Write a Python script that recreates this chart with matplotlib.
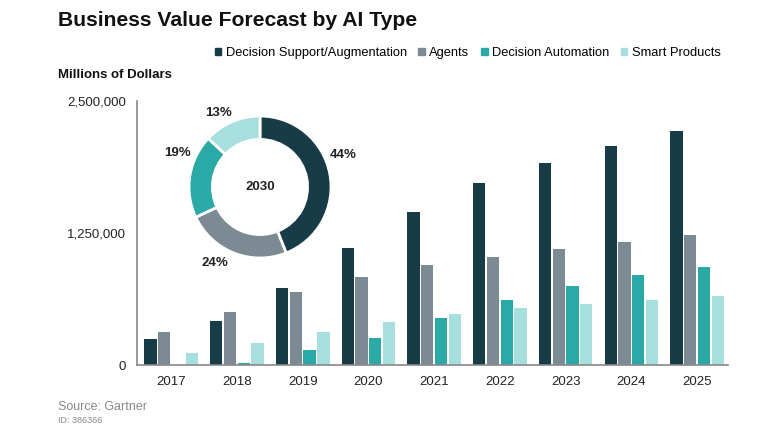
import numpy as np
import matplotlib
matplotlib.use("Agg")
import matplotlib.pyplot as plt
from matplotlib.patches import Patch

plt.rcParams.update({"font.family": ["Liberation Sans", "DejaVu Sans"]})

# data (millions of dollars)
years = ["2017", "2018", "2019", "2020", "2021", "2022", "2023", "2024", "2025"]
series = ["Decision Support/Augmentation", "Agents", "Decision Automation", "Smart Products"]
decision_support = [246000, 417000, 729000, 1105000, 1446000, 1726000, 1913000, 2077000, 2219000]
agents = [312000, 505000, 694000, 836000, 944000, 1020000, 1095000, 1162000, 1228000]
decision_automation = [0, 16000, 139000, 259000, 442000, 618000, 748000, 849000, 925000]
smart_products = [111000, 205000, 312000, 407000, 483000, 537000, 578000, 618000, 653000]
share_2030 = [44, 24, 19, 13]
yticks = [0, 1250000, 2500000]

colors = ["#173b47", "#7b8a93", "#2ba9a7", "#a6dfdd"]

fig = plt.figure(figsize=(7.68, 4.4), dpi=100)
ax = fig.add_axes([137 / 768, 1 - 365 / 440, (728 - 137) / 768, (365 - 101) / 440])

x = np.arange(len(years))
w, step = 0.187, 0.21
for i, vals in enumerate([decision_support, agents, decision_automation, smart_products]):
    ax.bar(x + (i - 1.5) * step, vals, width=w, color=colors[i], label=series[i])

ax.set_xlim(-0.52, len(years) - 0.53)
ax.set_ylim(0, 2500000)
ax.set_yticks(yticks)
ax.set_yticklabels(["{:,}".format(v) for v in yticks])
ax.set_xticks(x)
ax.set_xticklabels(years)
ax.tick_params(length=0, labelsize=9.5, colors="#222222", pad=8)
for s in ["top", "right"]:
    ax.spines[s].set_visible(False)
for s in ["left", "bottom"]:
    ax.spines[s].set_color("#888888")
    ax.spines[s].set_linewidth(1.2)

# donut inset for 2030
cx, cy, r = 260, 187, 71
dax = fig.add_axes([(cx - r) / 768, 1 - (cy + r) / 440, 2 * r / 768, 2 * r / 440])
dax.pie(share_2030, colors=colors, startangle=90, counterclock=False, radius=1,
        wedgeprops=dict(width=0.33, edgecolor="white", linewidth=2))
dax.set_xlim(-1, 1); dax.set_ylim(-1, 1)
dax.text(0, 0, "2030", ha="center", va="center", fontsize=9.5, fontweight="bold", color="#222222")
label_pos = [(343, 155), (215, 263), (177, 153), (218, 113)]
for (px, py), v in zip(label_pos, share_2030):
    fig.text(px / 768, 1 - py / 440, "%d%%" % v, ha="center", va="center",
             fontsize=9.5, fontweight="bold", color="#222222")

handles = [Patch(color=c, label=s) for c, s in zip(colors, series)]
fig.legend(handles=handles, loc="center right", bbox_to_anchor=(726 / 768, 1 - 53 / 440),
           ncol=4, frameon=False, fontsize=9.3, handlelength=0.5, handleheight=0.5,
           handletextpad=0.35, columnspacing=0.9, borderaxespad=0)

fig.text(58 / 768, 1 - 20 / 440, "Business Value Forecast by AI Type", fontsize=15.2,
         fontweight="bold", ha="left", va="center", color="#111111")
fig.text(58 / 768, 1 - 75 / 440, "Millions of Dollars", fontsize=9.5,
         fontweight="bold", ha="left", va="center", color="#111111")
fig.text(58 / 768, 1 - 407 / 440, "Source: Gartner", fontsize=9, ha="left", va="center", color="#888888")
fig.text(58 / 768, 1 - 420 / 440, "ID: 386366", fontsize=6.5, ha="left", va="center", color="#888888")

fig.savefig("out.png", dpi=100)
